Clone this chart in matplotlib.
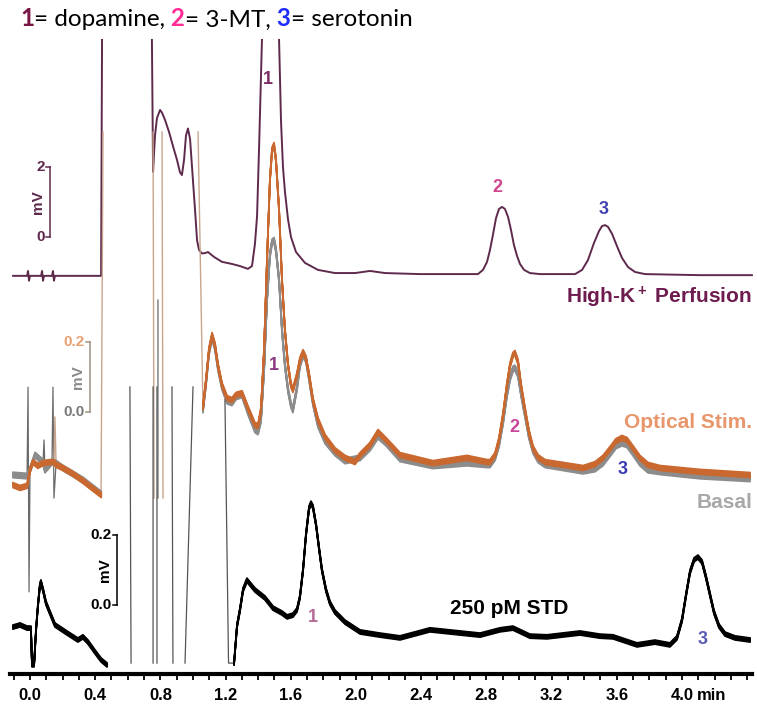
import matplotlib
matplotlib.use("Agg")
import matplotlib.pyplot as plt
import matplotlib.patheffects as pe
import numpy as np
from matplotlib.ticker import FixedLocator, FixedFormatter

# --- traces: rows of (time [min], signal [mV]) ---
# every trace has its own mV scale (see its scale bar); nan = off-scale gap
NAN = (np.nan, np.nan)

HIGHK = np.array([
    (-0.104, -1.11), (-0.018, -1.11), (-0.012, -0.97), (-0.006, -1.25), (0.0, -1.11),
    (0.068, -1.11), (0.074, -0.97), (0.080, -1.25), (0.086, -1.11),
    (0.135, -1.11), (0.141, -0.97), (0.147, -1.25), (0.153, -1.11),
    (0.436, -1.11), (0.442, 5.63), NAN,
    (0.748, 5.63), (0.755, 1.86), (0.761, 2.40), (0.767, 2.90), (0.779, 3.40), (0.798, 3.63),
    (0.810, 3.55), (0.828, 3.35), (0.853, 3.00), (0.877, 2.60), (0.902, 2.20), (0.920, 1.85),
    (0.932, 1.77), (0.945, 2.20), (0.957, 2.90), (0.969, 3.10), (0.982, 2.80), (0.994, 2.00),
    (1.012, 0.80), (1.025, -0.10), (1.037, -0.37), (1.055, -0.47), (1.074, -0.46),
    (1.092, -0.43), (1.129, -0.57), (1.178, -0.71), (1.239, -0.77), (1.288, -0.83),
    (1.337, -0.91), (1.362, -0.83), (1.380, -0.20), (1.393, 0.60), (1.405, 2.49),
    (1.423, 5.63), NAN,
    (1.528, 5.63), (1.540, 3.30), (1.552, 2.00), (1.564, 1.30), (1.583, 0.50), (1.601, 0.00),
    (1.632, -0.43), (1.687, -0.74), (1.767, -0.94), (1.871, -1.03), (1.994, -1.03),
    (2.086, -0.97), (2.178, -1.03), (2.393, -1.06), (2.699, -1.06),
    (2.748, -1.06), (2.779, -0.94), (2.804, -0.71), (2.822, -0.37), (2.840, 0.06),
    (2.859, 0.54), (2.877, 0.80), (2.896, 0.86), (2.914, 0.80), (2.933, 0.57), (2.951, 0.20),
    (2.969, -0.23), (2.988, -0.54), (3.006, -0.77), (3.031, -0.94), (3.067, -1.03),
    (3.129, -1.06), (3.344, -1.06), (3.387, -0.94), (3.423, -0.66), (3.460, -0.17),
    (3.491, 0.17), (3.509, 0.31), (3.528, 0.34), (3.546, 0.29), (3.571, 0.09), (3.601, -0.26),
    (3.632, -0.60), (3.669, -0.86), (3.712, -1.00), (3.773, -1.06), (4.110, -1.09),
    (4.429, -1.09),
])

OPTICAL = np.array([
    (-0.104, -0.209), (-0.061, -0.217), (-0.018, -0.211), (0.0, -0.166), (0.018, -0.143),
    (0.049, -0.154), (0.080, -0.146), (0.123, -0.143), (0.147, -0.143), (0.160, -0.151),
    (0.202, -0.160), (0.264, -0.177), (0.325, -0.197), (0.380, -0.217), (0.436, -0.237), NAN,
    (1.061, 0.014), (1.080, 0.091), (1.098, 0.177), (1.117, 0.220), (1.135, 0.191),
    (1.153, 0.134), (1.178, 0.077), (1.209, 0.040), (1.239, 0.034), (1.264, 0.049),
    (1.301, 0.054), (1.337, 0.011), (1.380, -0.037),
    (1.399, -0.040), (1.417, 0.006), (1.436, 0.177), (1.454, 0.434), (1.472, 0.663),
    (1.485, 0.749), (1.497, 0.763), (1.509, 0.720), (1.528, 0.577), (1.546, 0.377),
    (1.564, 0.234), (1.583, 0.134), (1.601, 0.077), (1.613, 0.063),
    (1.638, 0.106), (1.656, 0.149), (1.675, 0.171), (1.693, 0.154), (1.712, 0.106),
    (1.736, 0.034), (1.767, -0.023), (1.810, -0.071), (1.871, -0.109), (1.933, -0.131),
    (1.994, -0.143), (2.025, -0.123), (2.086, -0.094), (2.135, -0.057), (2.184, -0.080),
    (2.270, -0.123), (2.472, -0.146), (2.681, -0.131), (2.804, -0.143),
    (2.822, -0.143), (2.853, -0.123), (2.877, -0.080), (2.902, -0.009), (2.926, 0.077),
    (2.945, 0.134), (2.963, 0.163), (2.975, 0.169), (2.994, 0.143), (3.012, 0.077),
    (3.037, 0.006), (3.061, -0.057), (3.086, -0.103), (3.117, -0.129), (3.160, -0.143),
    (3.393, -0.160), (3.466, -0.149), (3.515, -0.131), (3.558, -0.106), (3.595, -0.083),
    (3.632, -0.074), (3.663, -0.080), (3.699, -0.103), (3.742, -0.131), (3.791, -0.151),
    (3.865, -0.160), (4.110, -0.171), (4.417, -0.180),
])
OPTICAL_SPIKES = np.array([
    (0.147, -0.143), (0.153, -0.014), (0.160, -0.151), NAN,
    (0.436, -0.237), (0.448, 0.800), NAN,
    (0.755, 0.800), (0.761, -0.246), NAN,
    (0.810, 0.800), (0.816, -0.246), NAN,
    (1.031, 0.800), (1.061, 0.014),
])

BASAL = np.array([
    (-0.104, -0.180), (-0.018, -0.183), (0.0, -0.166), (0.031, -0.123), (0.080, -0.143),
    (0.092, -0.166), (0.135, -0.143), (0.160, -0.146), (0.202, -0.160), (0.264, -0.177),
    (0.325, -0.194), (0.380, -0.214), (0.436, -0.234), NAN,
    (1.061, 0.006), (1.080, 0.083), (1.098, 0.169), (1.117, 0.214), (1.135, 0.183),
    (1.153, 0.126), (1.178, 0.071), (1.209, 0.031), (1.239, 0.026), (1.264, 0.043),
    (1.301, 0.049), (1.337, 0.000), (1.380, -0.051),
    (1.399, -0.057), (1.417, -0.023), (1.436, 0.120), (1.454, 0.320), (1.472, 0.449),
    (1.485, 0.486), (1.497, 0.491), (1.509, 0.463), (1.528, 0.377), (1.546, 0.234),
    (1.564, 0.134), (1.583, 0.063), (1.601, 0.020), (1.613, 0.006),
    (1.638, 0.069), (1.656, 0.134), (1.675, 0.163), (1.693, 0.149), (1.712, 0.097),
    (1.736, 0.026), (1.767, -0.037), (1.810, -0.083), (1.871, -0.117), (1.933, -0.140),
    (2.025, -0.131), (2.086, -0.103), (2.135, -0.069), (2.184, -0.089), (2.270, -0.134),
    (2.472, -0.154), (2.681, -0.146), (2.804, -0.151),
    (2.822, -0.151), (2.853, -0.131), (2.877, -0.094), (2.902, -0.029), (2.926, 0.049),
    (2.945, 0.097), (2.963, 0.123), (2.975, 0.126), (2.994, 0.106), (3.012, 0.054),
    (3.037, -0.009), (3.061, -0.069), (3.086, -0.111), (3.117, -0.137), (3.160, -0.151),
    (3.393, -0.169), (3.466, -0.163), (3.515, -0.146), (3.558, -0.120), (3.595, -0.097),
    (3.632, -0.089), (3.663, -0.094), (3.699, -0.117), (3.742, -0.146), (3.791, -0.166),
    (3.865, -0.171), (4.110, -0.183), (4.417, -0.191),
])
BASAL_SPIKES = np.array([
    (-0.018, -0.183), (-0.012, 0.071), (-0.006, -0.514), (0.0, -0.166), NAN,
    (0.080, -0.143), (0.086, -0.080), (0.092, -0.166), NAN,
    (0.135, -0.143), (0.141, 0.071), (0.147, -0.246), (0.160, -0.146), NAN,
    (0.785, 0.320), (0.785, -0.246),
])

STD = np.array([
    (-0.104, -0.063), (-0.061, -0.057), (-0.018, -0.066), (0.006, -0.066), (0.012, -0.171),
    (0.025, -0.171), (0.037, -0.071), (0.049, 0.000), (0.061, 0.057), (0.067, 0.066),
    (0.080, 0.043), (0.098, 0.006), (0.123, -0.023), (0.153, -0.057), (0.227, -0.080),
    (0.294, -0.100), (0.325, -0.091), (0.356, -0.106), (0.399, -0.134), (0.436, -0.157),
    (0.472, -0.171), NAN,
    (1.252, -0.166), (1.270, -0.060), (1.288, -0.014), (1.307, 0.043), (1.331, 0.071),
    (1.350, 0.060), (1.380, 0.043), (1.442, 0.020), (1.491, -0.009), (1.546, -0.023),
    (1.577, -0.034), (1.613, -0.029), (1.638, -0.014), (1.656, 0.023), (1.675, 0.100),
    (1.693, 0.200), (1.712, 0.277), (1.724, 0.291), (1.736, 0.280), (1.755, 0.229),
    (1.773, 0.163), (1.791, 0.100), (1.816, 0.043), (1.840, 0.006), (1.871, -0.020),
    (1.933, -0.049), (2.025, -0.077), (2.147, -0.086), (2.270, -0.094), (2.454, -0.071),
    (2.577, -0.077), (2.761, -0.086), (2.883, -0.071), (2.963, -0.066), (3.067, -0.089),
    (3.172, -0.091), (3.374, -0.080), (3.497, -0.089), (3.577, -0.091), (3.724, -0.114),
    (3.834, -0.106), (3.926, -0.114), (3.969, -0.094), (4.000, -0.043), (4.025, 0.029),
    (4.049, 0.094), (4.074, 0.129), (4.098, 0.137), (4.123, 0.123), (4.147, 0.080),
    (4.172, 0.029), (4.196, -0.020), (4.227, -0.060), (4.264, -0.083), (4.325, -0.094),
    (4.417, -0.100),
])
STD_SPIKES = np.array([
    (0.613, 0.623), (0.620, -0.166), NAN,
    (0.755, 0.623), (0.755, -0.166), NAN,
    (0.779, 0.623), (0.779, -0.166), NAN,
    (0.871, 0.623), (0.877, -0.166), NAN,
    (1.000, 0.623), (0.951, -0.166), NAN,
    (1.196, 0.586), (1.218, -0.166), (1.252, -0.166),
])

TIME_TICKS = [0.0, 0.4, 0.8, 1.2, 1.6, 2.0, 2.4, 2.8, 3.2, 3.6, 4.0]
TIME_LABELS = ["0.0", "0.4", "0.8", "1.2", "1.6", "2.0", "2.4", "2.8", "3.2", "3.6", "4.0"]
MINOR_TICKS = [round(-0.1 + 0.1 * i, 1) for i in range(46)]

# --- look ---
W, H = 757, 707
plt.rcParams["font.family"] = ["Liberation Sans Narrow", "Liberation Sans", "DejaVu Sans"]
plt.rcParams["font.weight"] = "bold"
plt.rcParams["mathtext.fontset"] = "custom"
plt.rcParams["mathtext.rm"] = "Liberation Sans:bold"
plt.rcParams["mathtext.it"] = "Liberation Sans:bold"

PLUM = "#5e2a4c"
ORANGE = "#c9682f"
ORANGE_LIGHT = "#e8966a"
TAN = "#c8a58c"
GRAY = "#8c8c8c"

X0_PX, PX_PER_MIN = 30, 163   # where 0 min sits and how wide a minute is


def t_of(px):
    return (px - X0_PX) / PX_PER_MIN


def fxy(px, py):
    return px / W, 1 - py / H


fig = plt.figure(figsize=(W / 100, H / 100), dpi=100)


def panel(zero_px, px_per_mv):
    # one transparent full-figure axes per trace, in that trace's own mV
    ax = fig.add_axes([0, 0, 1, 1])
    ax.set_xlim(t_of(0), t_of(W))
    ax.set_ylim((zero_px - H) / px_per_mv, zero_px / px_per_mv)
    ax.axis("off")
    ax.patch.set_alpha(0)
    return ax


def smear(dy, n=7):
    # noisy traces look thick only vertically
    return [pe.Stroke(offset=(0, o)) for o in np.linspace(-dy, dy, n)] + [pe.Normal()]


ax_k = panel(237, 35)
ax_o = panel(412, 350)
ax_s = panel(605, 350)

# High-K+ perfusion
ax_k.plot(HIGHK[:, 0], HIGHK[:, 1], color=PLUM, lw=1.4)

# basal + optical stim
ax_o.plot(BASAL_SPIKES[:, 0], BASAL_SPIKES[:, 1], color="#6a6a6a", lw=0.9)
ax_o.plot(OPTICAL_SPIKES[:, 0], OPTICAL_SPIKES[:, 1], color=TAN, lw=1.0)
ax_o.plot(BASAL[:, 0], BASAL[:, 1], color=GRAY, lw=1.2, path_effects=smear(2.0))
ax_o.plot(OPTICAL[:, 0], OPTICAL[:, 1], color=ORANGE, lw=1.2, path_effects=smear(1.8))

# standard
ax_s.plot(STD_SPIKES[:, 0], STD_SPIKES[:, 1], color="#555555", lw=0.9)
ax_s.plot(STD[:, 0], STD[:, 1], color="black", lw=1.2, path_effects=smear(1.5))


# scale bars
def scale_bar(ax, xpx, lo, hi, color, lab_lo, lab_hi, lab_color_lo, lab_color_hi, mv_color):
    x = t_of(xpx)
    dx = t_of(xpx) - t_of(xpx - 4)
    ax.plot([x, x], [lo, hi], color=color, lw=1.1)
    ax.plot([x - dx, x], [lo, lo], color=color, lw=1.1)
    ax.plot([x - dx, x], [hi, hi], color=color, lw=1.1)
    ax.text(x - 1.3 * dx, hi, lab_hi, ha="right", va="center", fontsize=11, color=lab_color_hi)
    ax.text(x - 1.3 * dx, lo, lab_lo, ha="right", va="center", fontsize=11, color=lab_color_lo)
    ax.text(x - 1.3 * dx, (lo + hi) / 2, "mV", ha="right", va="center", rotation=90,
            fontsize=11, color=mv_color)


scale_bar(ax_k, 50, 0, 2, PLUM, "0", "2", PLUM, PLUM, PLUM)
scale_bar(ax_o, 90, 0, 0.2, "#a09080", "0.0", "0.2", "#7a7a7a", "#e8a070", "#8a8a8a")
scale_bar(ax_s, 117, 0, 0.2, "black", "0.0", "0.2", "black", "black", "black")

# trace names
fig.text(*fxy(752, 297), "High-K$^+$ Perfusion", ha="right", va="center", fontsize=15,
         color="#6e1b4f")
fig.text(*fxy(752, 423), "Optical Stim.", ha="right", va="center", fontsize=15,
         color=ORANGE_LIGHT)
fig.text(*fxy(752, 503), "Basal", ha="right", va="center", fontsize=15, color="#a8a8a8")
fig.text(*fxy(509, 608), "250 pM STD", ha="center", va="center", fontsize=15, color="black")

# peak numbers
for px, py, s, c in [(268, 80, "1", "#7b2d63"), (497, 188, "2", "#d0468c"),
                     (604, 209, "3", "#4040b0"), (274, 366, "1", "#8b3a83"),
                     (514, 427, "2", "#c8479a"), (623, 470, "3", "#3a3ab0"),
                     (313, 617, "1", "#b46a93"), (703, 640, "3", "#5a5ab5")]:
    fig.text(*fxy(px, py), s, ha="center", va="center", fontsize=13, color=c)

# time axis
axt = fig.add_axes([10 / W, 1 - 674 / H, (752 - 10) / W, 0.001])
axt.set_xlim(t_of(10), t_of(752))
axt.patch.set_alpha(0)
for s in ["top", "left", "right"]:
    axt.spines[s].set_visible(False)
axt.spines["bottom"].set_linewidth(3)
axt.set_yticks([])
axt.xaxis.set_major_locator(FixedLocator(TIME_TICKS))
axt.xaxis.set_major_formatter(FixedFormatter(TIME_LABELS))
axt.xaxis.set_minor_locator(FixedLocator(MINOR_TICKS))
axt.tick_params(which="both", direction="out", length=4, width=1.3, pad=6, labelsize=12)
fig.text(*fxy(697, 695), "min", ha="left", va="center", fontsize=12)

# title with coloured numbers, pieces chained left to right
title = [("1", "#7a1646", "bold"), ("= dopamine,", "black", "normal"),
         (" 2", "#ff2d95", "bold"), ("= 3-MT,", "black", "normal"),
         (" 3", "#1f2bff", "bold"), ("= serotonin", "black", "normal")]
prev = None
for s, c, w in title:
    kw = dict(color=c, fontweight=w, fontsize=17.5, family=["Lato", "DejaVu Sans"])
    if prev is None:
        prev = fig.text(*fxy(20, 19), s, ha="left", va="center", **kw)
    else:
        prev = ax_k.annotate(s, xy=(1, 0), xycoords=prev, ha="left", va="bottom",
                             annotation_clip=False, **kw)

plt.savefig("out.png", dpi=100)
